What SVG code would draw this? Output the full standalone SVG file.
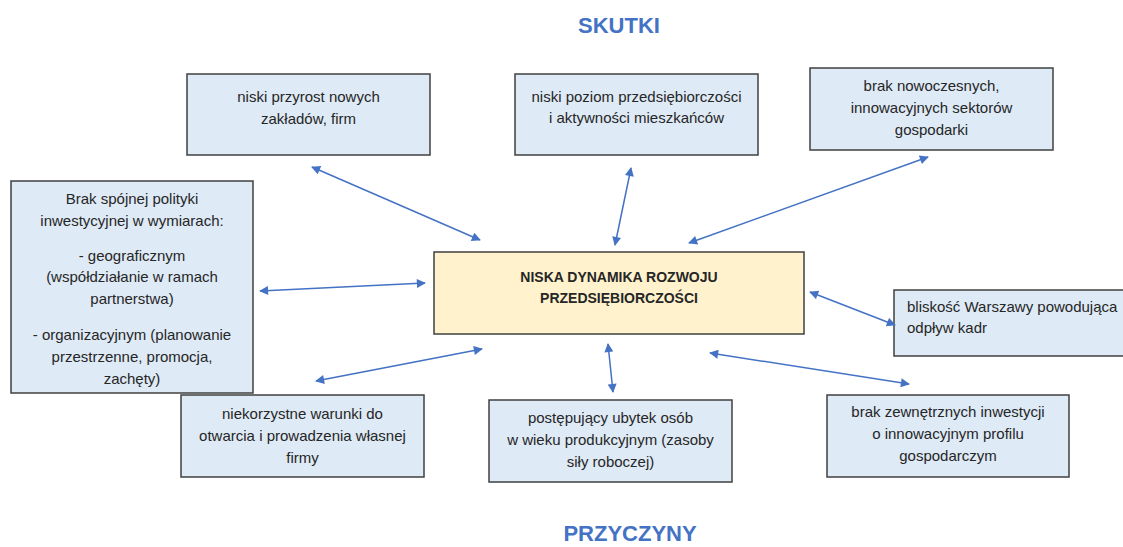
<svg xmlns="http://www.w3.org/2000/svg" width="1123" height="547" viewBox="0 0 1123 547">
<style>
.box{fill:#DEEAF6;stroke:#404040;stroke-width:1.5}
.core{fill:#FFF2CC;stroke:#404040;stroke-width:1.5}
.t{font-family:"Liberation Sans",Arial,sans-serif;font-size:15px;fill:#262626}
.c{text-anchor:middle}
.b{font-weight:bold;font-size:14px}
.h{font-family:"Liberation Sans",Arial,sans-serif;font-size:22px;font-weight:bold;fill:#4472C4;text-anchor:middle}
.conn line{stroke:#4472C4;stroke-width:1.5;marker-start:url(#ah);marker-end:url(#ah)}
</style>
<defs>
<marker id="ah" viewBox="0 0 10 10" refX="9" refY="5" markerWidth="11" markerHeight="9" markerUnits="userSpaceOnUse" orient="auto-start-reverse">
<path d="M0,0 L10,5 L0,10 z" fill="#4472C4"/>
</marker>
</defs>
<rect width="1123" height="547" fill="#ffffff"/>
<text class="h" x="619" y="33">SKUTKI</text>
<text class="h" x="630" y="541">PRZYCZYNY</text>

<g id="n-przyrost">
<rect class="box" x="187" y="74" width="243" height="81"/>
<text class="t c" x="308.5" y="102">niski przyrost nowych</text>
<text class="t c" x="308.5" y="124">zakładów, firm</text>
</g>
<g id="n-poziom">
<rect class="box" x="515" y="74" width="243" height="81"/>
<text class="t c" x="636.5" y="102">niski poziom przedsiębiorczości</text>
<text class="t c" x="636.5" y="123">i aktywności mieszkańców</text>
</g>
<g id="n-sektory">
<rect class="box" x="810" y="68" width="243" height="82"/>
<text class="t c" x="931.5" y="91">brak nowoczesnych,</text>
<text class="t c" x="931.5" y="113">innowacyjnych sektorów</text>
<text class="t c" x="931.5" y="135">gospodarki</text>
</g>
<g id="n-polityka">
<rect class="box" x="11" y="181" width="242" height="212"/>
<text class="t c" x="132" y="204">Brak spójnej polityki</text>
<text class="t c" x="132" y="226">inwestycyjnej w wymiarach:</text>
<text class="t c" x="132" y="261">- geograficznym</text>
<text class="t c" x="132" y="282">(współdziałanie w ramach</text>
<text class="t c" x="132" y="304">partnerstwa)</text>
<text class="t c" x="132" y="340">- organizacyjnym (planowanie</text>
<text class="t c" x="132" y="362">przestrzenne, promocja,</text>
<text class="t c" x="132" y="384">zachęty)</text>
</g>
<g id="n-core">
<rect class="core" x="434" y="252" width="370" height="82"/>
<text class="t c b" x="619" y="282">NISKA DYNAMIKA ROZWOJU</text>
<text class="t c b" x="619" y="303">PRZEDSIĘBIORCZOŚCI</text>
</g>
<g id="n-warszawa">
<rect class="box" x="894" y="290" width="240" height="66"/>
<text class="t" x="907" y="312">bliskość Warszawy powodująca</text>
<text class="t" x="907" y="333">odpływ kadr</text>
</g>
<g id="n-niekorzystne">
<rect class="box" x="181" y="395" width="243" height="82"/>
<text class="t c" x="302.5" y="419">niekorzystne warunki do</text>
<text class="t c" x="302.5" y="441">otwarcia i prowadzenia własnej</text>
<text class="t c" x="302.5" y="463">firmy</text>
</g>
<g id="n-ubytek">
<rect class="box" x="489" y="400" width="243" height="82"/>
<text class="t c" x="610.5" y="423">postępujący ubytek osób</text>
<text class="t c" x="610.5" y="445">w wieku produkcyjnym (zasoby</text>
<text class="t c" x="610.5" y="467">siły roboczej)</text>
</g>
<g id="n-inwestycje">
<rect class="box" x="827" y="395" width="242" height="82"/>
<text class="t c" x="948" y="417">brak zewnętrznych inwestycji</text>
<text class="t c" x="948" y="439">o innowacyjnym profilu</text>
<text class="t c" x="948" y="461">gospodarczym</text>
</g>

<g id="connectors" class="conn">
<line x1="312" y1="167" x2="480" y2="240"/>
<line x1="631" y1="168" x2="615" y2="245"/>
<line x1="928" y1="157" x2="689" y2="243"/>
<line x1="260" y1="291" x2="425" y2="283"/>
<line x1="810" y1="292" x2="895" y2="325"/>
<line x1="316" y1="381" x2="482" y2="349"/>
<line x1="608" y1="344" x2="613" y2="392"/>
<line x1="710" y1="353" x2="909" y2="384"/>
</g>
</svg>
